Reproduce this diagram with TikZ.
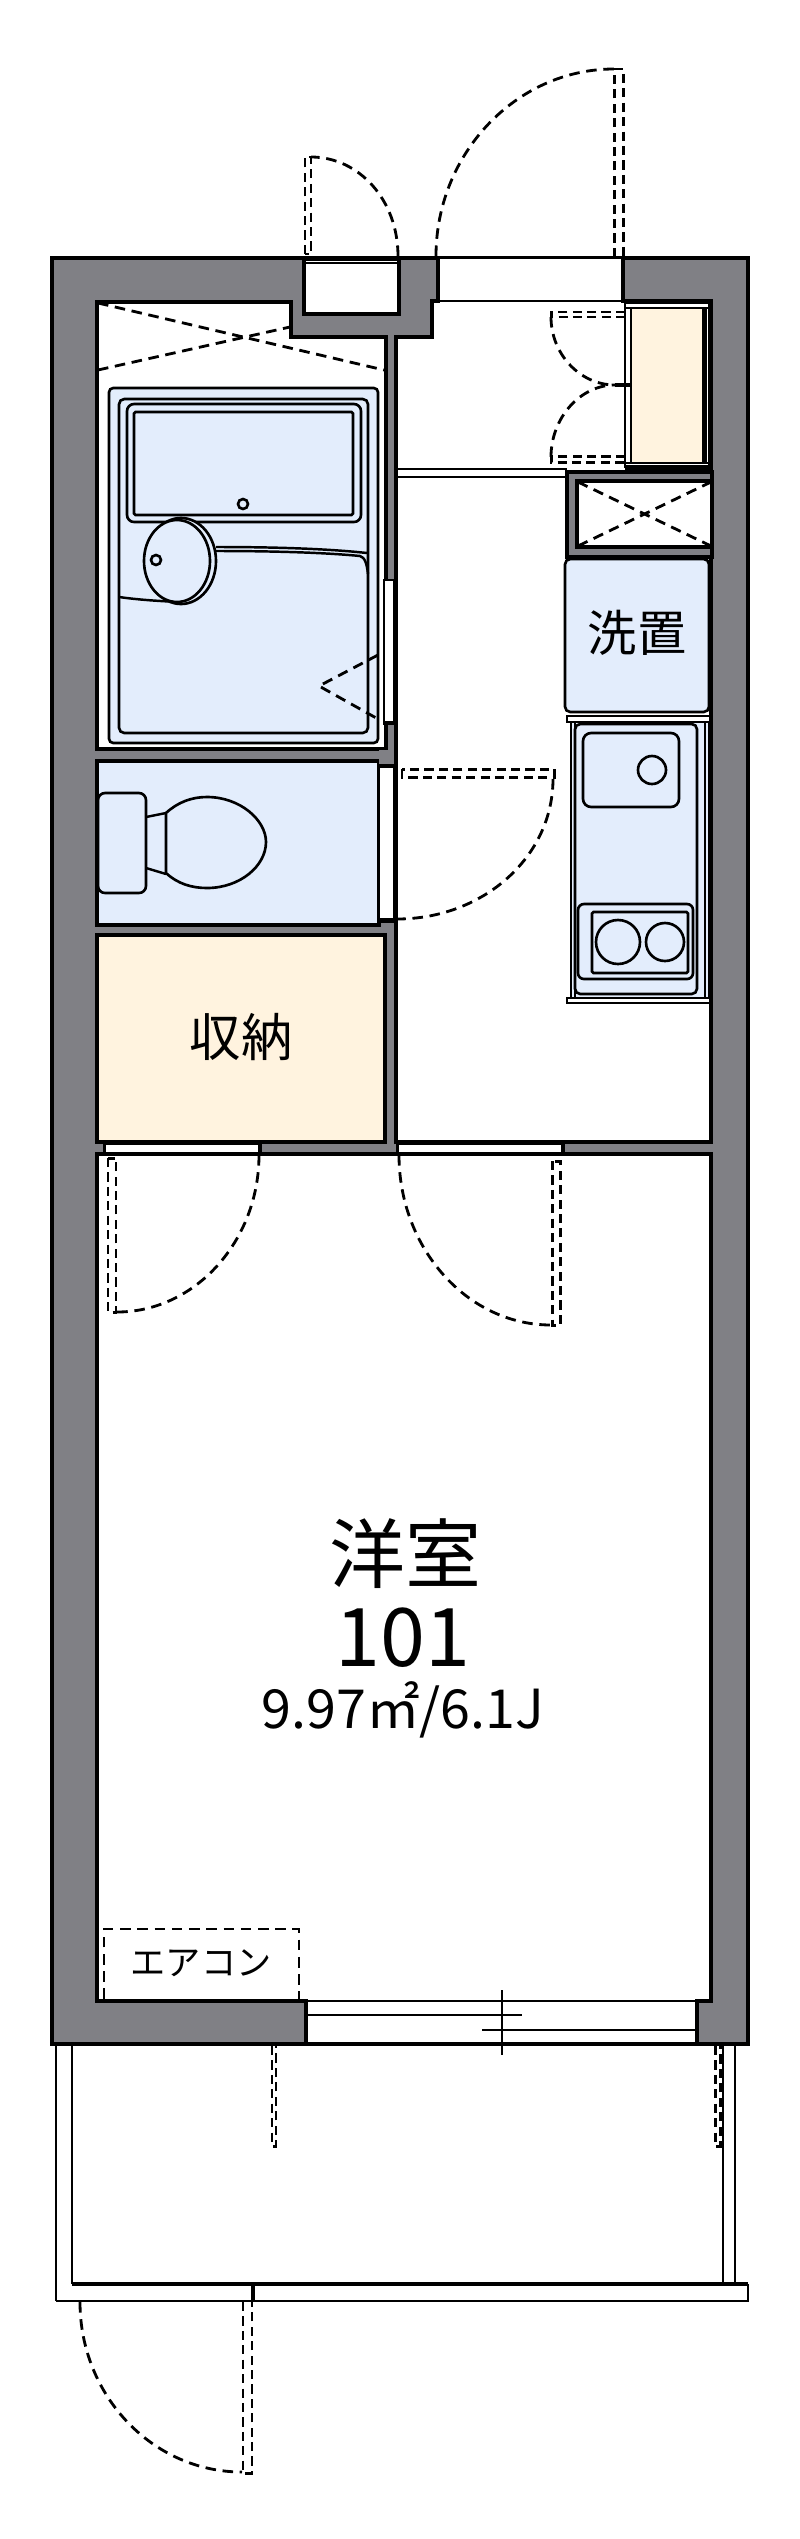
\documentclass[tikz,border=0pt]{standalone}
\usepackage{fontspec}
\setmainfont{Noto Sans CJK JP}
\usetikzlibrary{positioning}
\definecolor{wallgray}{HTML}{808085}
\definecolor{wetblue}{HTML}{E3EDFC}
\definecolor{storecream}{HTML}{FFF3DF}
\tikzset{
  wall/.style={draw=black, line width=1.1pt, line join=miter},
  thinline/.style={draw=black, line width=0.7pt},
  fitting/.style={draw=black, line width=0.75pt, fill=wetblue},
  leaf/.style={draw=black, line width=0.85pt, dash pattern=on 2.6pt off 1.5pt},
  swing/.style={draw=black, line width=0.8pt, dash pattern=on 3pt off 1.9pt},
  label/.style={inner sep=0pt, align=center}
}
\begin{document}
\begin{tikzpicture}[x=0.01cm, y=-0.01cm]
\useasboundingbox (0,0) rectangle (800,2539);

% Outer body
\fill[white] (0,0) rectangle (800,2539);
\draw[wall, fill=wallgray, line width=1.3pt] (52,258) rectangle (748,2044);

% Rooms
\draw[wall, fill=white] (97,302) -- (291,302) -- (291,337) -- (386,337) -- (386,749) -- (97,749) -- cycle;
\draw[wall, fill=white] (304,259) rectangle (399,314);
\draw[thinline] (304,263) -- (399,263);
\fill[white] (438,259) rectangle (622,305);
\draw[wall, fill=white] (438,258) -- (438,301) -- (432,301) -- (432,337) -- (396,337) -- (396,1142)
  -- (711,1142) -- (711,301) -- (623,301) -- (623,258);
\draw[thinline] (438,257.5) -- (623,257.5);
\draw[thinline] (438,301) -- (623,301);
\draw[wall, fill=wetblue] (97,761) rectangle (379,925);
\draw[wall, fill=storecream] (97,935) rectangle (385,1142);
\draw[wall, fill=white] (97,1154) -- (711,1154) -- (711,2001) -- (697,2001) -- (697,2044) -- (306,2044) -- (306,2001) -- (97,2001) -- cycle;

% Openings in the partitions
\draw[thinline, fill=white] (384,580) rectangle (394,723);
\fill[black] (383,721) rectangle (396,725);
\fill[wallgray] (379,750) rectangle (394,767);
\draw[thinline, fill=white] (379,767) rectangle (394,919);
\fill[black] (378,764) rectangle (396,768);
\fill[black] (378,919) rectangle (396,923);
\draw[thinline, fill=white] (105,1144) rectangle (259,1153);
\draw[thinline, fill=white] (398,1144) rectangle (562,1153);
\fill[black] (103,1142) rectangle (106,1153);
\fill[black] (258,1142) rectangle (262,1153);
\fill[black] (396,1142) rectangle (399,1153);
\fill[black] (561,1142) rectangle (565,1153);
\draw[thinline] (396,469) -- (567,469);
\draw[thinline] (396,477) -- (567,477);

% Shoe cupboard
\fill[black] (625,301) rectangle (712,472);
\fill[white] (625,304) rectangle (708,465);
\draw[thinline] (631,308) -- (631,463);
\draw[thinline] (625,308) -- (708,308);
\draw[thinline] (625,463) -- (708,463);
\fill[storecream] (632,309) rectangle (702,462);
\fill[black] (702,309) rectangle (707,463);
\draw[thinline] (625,301) -- (625,468);

% Shaft
\draw[wall, fill=wallgray] (567,472) rectangle (712,557);
\draw[wall, fill=white, line width=1.3pt] (577,481) rectangle (712,547);
\draw[swing] (578,482) -- (711,546);
\draw[swing] (578,546) -- (711,482);

% Bath unit
\draw[fitting, rounded corners=1.2pt] (109,388) rectangle (378,743);
\draw[fitting, rounded corners=1.5pt] (119,399) rectangle (368,733);
\draw[fitting, rounded corners=2pt] (127,404) rectangle (361,522);
\draw[fitting, rounded corners=0.4pt] (134,412) rectangle (353,515);
\draw[fitting] (243,504) circle (5);
\draw[thinline] (216,547) .. controls (280,547) and (330,549) .. (367,553);
\draw[thinline] (216,551) .. controls (280,551) and (330,553) .. (360,556) .. controls (365,557) and (367,565) .. (368,574);
\draw[thinline] (119,597) .. controls (140,600) and (160,601) .. (178,602);
\draw[fitting] (181,561) ellipse (35 and 43);
\draw[fitting] (177,561) ellipse (33 and 41);
\draw[fitting] (156,560) circle (5);
\draw[swing] (378,655) -- (319,686) -- (378,719);

% Toilet
\draw[fitting, rounded corners=2pt] (98,793) rectangle (146,893);
\draw[thinline] (146,817) -- (166,813);
\draw[thinline] (146,868) -- (166,874);
\draw[fitting] (166,813) .. controls (178,802) and (192,797) .. (207,797)
  .. controls (240,797) and (266,820) .. (266,842) .. controls (266,866) and (240,888) .. (207,888)
  .. controls (192,888) and (178,884) .. (166,873) -- cycle;

% Washer place
\draw[fitting, rounded corners=1.5pt] (565,559) rectangle (709,712);
\node[label, font=\fontsize{14pt}{16pt}\selectfont] (washer) at (637,633) {洗置};

% Kitchen
\draw[fitting] (571,722) rectangle (709,998);
\draw[thinline] (575,722) -- (575,998);
\draw[thinline] (705,722) -- (705,998);
\draw[thinline, fill=white] (567,716) rectangle (710,722);
\draw[thinline, fill=white] (567,998) rectangle (710,1003);
\draw[fitting, rounded corners=1.5pt] (575,724) rectangle (697,994);
\draw[fitting, rounded corners=2.3pt] (583,733) rectangle (679,807);
\draw[fitting] (652,770) circle (14);
\draw[fitting, rounded corners=1.7pt] (578,904) rectangle (693,979);
\draw[fitting, rounded corners=0.4pt] (592,912) rectangle (688,973);
\draw[fitting] (618,942) circle (22);
\draw[fitting] (665,942) circle (19);

% Entrance doors
\draw[leaf] (305,254) rectangle (311,157);
\draw[swing] (398,256) .. controls (398,200) and (359,157) .. (311,157);
\draw[leaf] (614,257) -- (614,69) -- (623,69) -- (623,257);
\draw[swing] (436,256) .. controls (436,154) and (516,69) .. (614,69);

% Cupboard doors
\draw[leaf] (625,312) -- (551,312) -- (551,317) -- (625,317);
\draw[leaf] (625,456) -- (551,456) -- (551,462) -- (625,462);
\draw[swing] (551,317) .. controls (551,354) and (580,385) .. (615,385);
\draw[swing] (551,457) .. controls (551,418) and (580,385) .. (615,385);
\draw[line width=1pt] (615,385) -- (630,385);

% Toilet door
\draw[leaf] (402,769) rectangle (554,777);
\draw[swing] (553,779) .. controls (553,857) and (483,919) .. (397,919);

% Dashed crosses by the bath
\draw[swing] (98,303) -- (384,370);
\draw[swing] (98,370) -- (290,327);

% Room doors
\draw[leaf] (108,1158) rectangle (116,1312);
\draw[swing] (259,1155) .. controls (259,1241) and (195,1312) .. (117,1312);
\draw[leaf] (552,1161) rectangle (560,1325);
\draw[swing] (399,1155) .. controls (399,1248) and (467,1325) .. (551,1325);

% Labels
\node[label, font=\fontsize{14.6pt}{16pt}\selectfont] (closet) at (241,1037) {収納};
\node[label, font=\fontsize{21.6pt}{24pt}\selectfont] (room) at (405,1554) {洋室};
\node[label, font=\fontsize{23pt}{24pt}\selectfont] (number) at (403,1638) {101};
\node[label, font=\fontsize{15.3pt}{18pt}\selectfont] (area) at (403,1710) {9.97㎡/6.1J};

% Air conditioner
\draw[swing] (104,1999) -- (104,1929) -- (299,1929) -- (299,1999);
\node[label, font=\fontsize{10pt}{12pt}\selectfont] (aircon) at (201,1963) {エアコン};

% Window
\draw[thinline] (306,2001) -- (697,2001);
\draw[thinline] (306,2015) -- (522,2015);
\draw[thinline] (482,2030) -- (697,2030);
\draw[thinline] (502,1990) -- (502,2055);

% Balcony
\draw[thinline] (56,2045) -- (56,2301);
\draw[thinline] (72,2045) -- (72,2284);
\draw[thinline] (723,2045) -- (723,2284);
\draw[thinline] (735,2045) -- (735,2284);
\draw[thinline] (56,2301) -- (748,2301) -- (748,2284);
\draw[wall] (72,2284) -- (748,2284);
\draw[thinline, line width=1pt] (253,2284) -- (253,2301);
\draw[leaf] (272,2046) -- (272,2146) -- (276,2146) -- (276,2046);
\draw[leaf] (715,2046) -- (715,2146) -- (720,2146) -- (720,2046);
\draw[leaf] (243,2302) -- (243,2473) -- (252,2473) -- (252,2302);
\draw[swing] (80,2302) .. controls (80,2396) and (153,2472) .. (242,2472);
\end{tikzpicture}
\end{document}
